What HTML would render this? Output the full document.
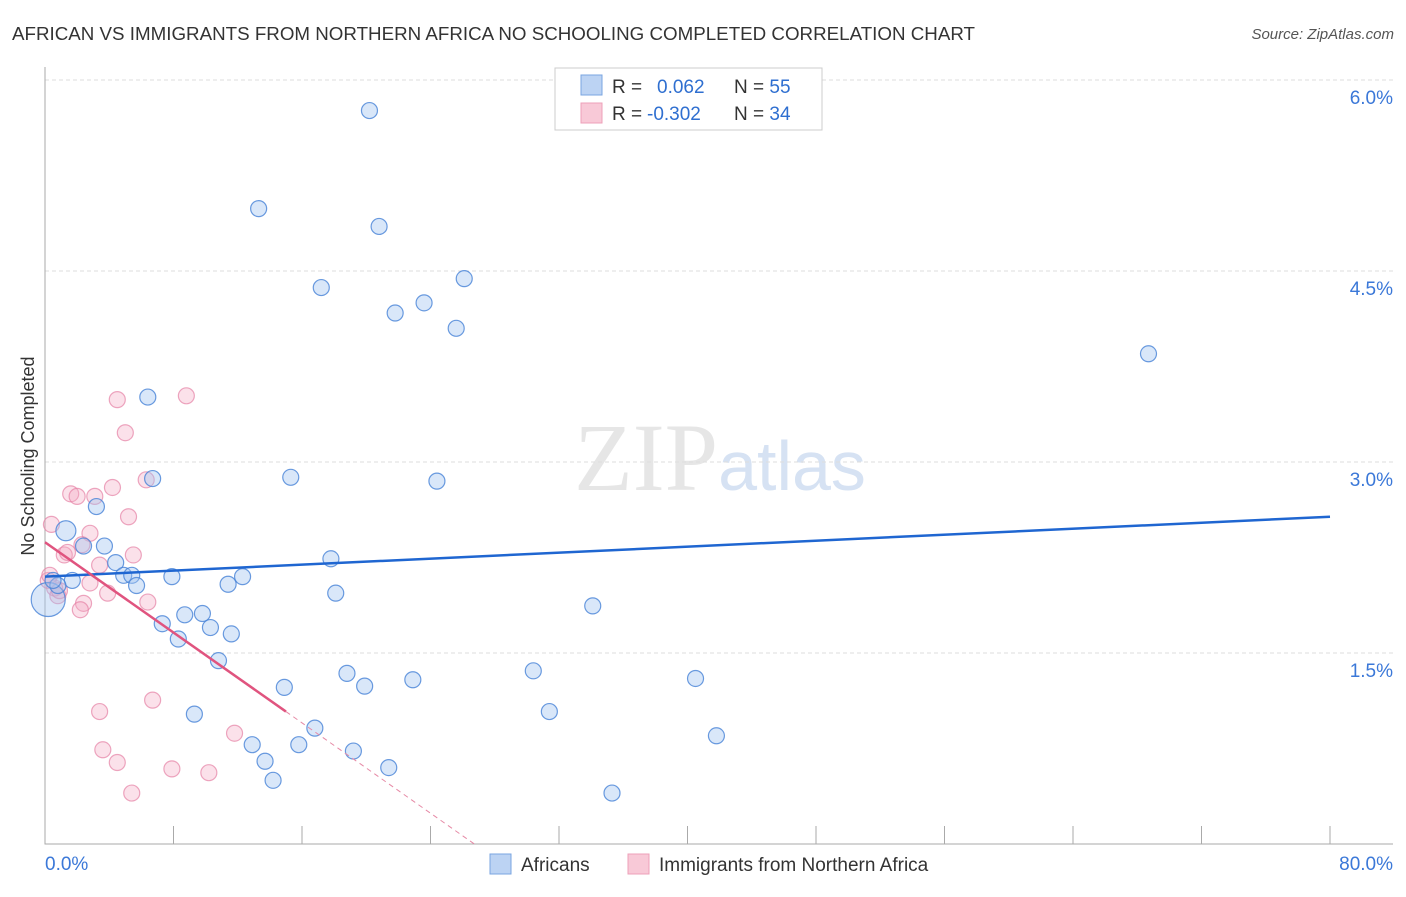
<!DOCTYPE html>
<html><head><meta charset="utf-8"><style>
body{margin:0;background:#fff;font-family:"Liberation Sans",sans-serif}
</style></head><body>
<svg width="1406" height="892" xmlns="http://www.w3.org/2000/svg" font-family="Liberation Sans, sans-serif">
<text x="12" y="40" font-size="18" fill="#333" textLength="963" lengthAdjust="spacingAndGlyphs">AFRICAN VS IMMIGRANTS FROM NORTHERN AFRICA NO SCHOOLING COMPLETED CORRELATION CHART</text>
<text x="1394" y="39" font-size="15" fill="#555" text-anchor="end" font-style="italic">Source: ZipAtlas.com</text>
<text x="720" y="490" font-size="96" fill="#e6e6e6" text-anchor="middle" font-family="Liberation Serif, serif">ZIP<tspan fill="#d6e2f3" font-family="Liberation Sans, sans-serif" font-size="70">atlas</tspan></text>
<g id="grid"></g>
<g id="axes"></g>
<g id="pts"></g>
<g id="lines"></g>
<text transform="translate(34,456) rotate(-90)" font-size="18" fill="#333" text-anchor="middle">No Schooling Completed</text>
<g>
<rect x="555" y="68" width="267" height="62" fill="#fff" stroke="#ccc"/>
<rect x="581" y="75" width="21" height="20" fill="#bcd3f3" stroke="#7aa4e0"/>
<rect x="581" y="103" width="21" height="20" fill="#f8c9d7" stroke="#eea0b8"/>
<text x="612" y="93" font-size="19" fill="#333">R = <tspan fill="#2f6fd0" x="657">0.062</tspan><tspan fill="#333" x="734">N = </tspan><tspan fill="#2f6fd0">55</tspan></text>
<text x="612" y="120" font-size="19" fill="#333">R = <tspan fill="#2f6fd0" x="647">-0.302</tspan><tspan fill="#333" x="734">N = </tspan><tspan fill="#2f6fd0">34</tspan></text>
</g>
<g>
<rect x="490" y="854" width="21" height="20" fill="#bcd3f3" stroke="#7aa4e0"/>
<text x="521" y="871" font-size="19" fill="#333">Africans</text>
<rect x="628" y="854" width="21" height="20" fill="#f8c9d7" stroke="#eea0b8"/>
<text x="659" y="871" font-size="19" fill="#333">Immigrants from Northern Africa</text>
</g>
</svg>
<script>
const yTicks=[1.5,3.0,4.5,6.0];
const xTickCount=[0,8,16,24,32,40,48,56,64,72,80];
const africansX=[20.2,13.3,20.8,17.2,26.1,21.8,23.6,25.6,68.7,6.4,6.7,15.3,24.4,3.2,1.3,3.7,2.4,4.4,4.9,5.4,5.7,7.9,12.3,11.4,17.8,18.1,34.1,8.7,9.8,7.3,8.3,10.3,11.6,10.8,18.8,19.9,22.9,30.4,40.5,14.9,9.3,31.4,16.8,12.9,15.8,13.7,19.2,21.4,14.2,41.8,35.3,0.2,1.7,0.8,0.5];
const africansY=[5.76,4.99,4.85,4.37,4.44,4.17,4.25,4.05,3.85,3.51,2.87,2.88,2.85,2.65,2.46,2.34,2.34,2.21,2.11,2.11,2.03,2.10,2.10,2.04,2.24,1.97,1.87,1.80,1.81,1.73,1.61,1.70,1.65,1.44,1.34,1.24,1.29,1.36,1.30,1.23,1.02,1.04,0.91,0.78,0.78,0.65,0.73,0.60,0.50,0.85,0.40,1.92,2.07,2.03,2.07];
const africansR=[8,8,8,8,8,8,8,8,8,8,8,8,8,8,10,8,8,8,8,8,8,8,8,8,8,8,8,8,8,8,8,8,8,8,8,8,8,8,8,8,8,8,8,8,8,8,8,8,8,8,8,17,8,8,8];
const nafX=[8.8,4.5,5.0,6.3,1.6,2.0,4.2,3.1,5.2,0.4,2.8,2.3,1.2,5.5,3.4,1.4,0.2,0.6,2.8,3.9,6.4,2.4,2.2,0.8,3.4,6.7,3.6,4.5,7.9,10.2,11.8,5.4,0.3,0.9];
const nafY=[3.52,3.49,3.23,2.86,2.75,2.73,2.80,2.73,2.57,2.51,2.44,2.35,2.27,2.27,2.19,2.29,2.07,2.01,2.05,1.97,1.90,1.89,1.84,1.95,1.04,1.13,0.74,0.64,0.59,0.56,0.87,0.40,2.11,1.99];
const blueTrend=[2.10,2.57];
const pinkTrend=[2.37,1.04];
const ns='http://www.w3.org/2000/svg';
const X=v=>45+v*1285/80, Y=v=>844-v*127.33;
function mk(p,t,a){const e=document.createElementNS(ns,t);for(const k in a)e.setAttribute(k,a[k]);document.getElementById(p).appendChild(e);return e;}
yTicks.forEach(t=>{
 const g=mk('grid','line',{x1:45,x2:1393,y1:Y(t),y2:Y(t),stroke:'#ddd','stroke-dasharray':'4,3'});
 
 
 const l=mk('grid','text',{x:1393,y:Y(t)+24,'font-size':19,fill:'#3b78d8','text-anchor':'end'});l.textContent=t.toFixed(1)+'%';
 
 
});
const ax=mk('axes','path',{d:'M45,67V844H1393',stroke:'#aaa',fill:'none'});


xTickCount.forEach(t=>{const k=mk('axes','line',{x1:X(t),x2:X(t),y1:826,y2:844,stroke:'#aaa'});
 
 });
[[0,'start',45],[80,'end',1393]].forEach(([v,a,x])=>{const l=mk('axes','text',{x:x,y:870,'font-size':19,fill:'#3b78d8','text-anchor':a});l.textContent=v.toFixed(1)+'%';
 
 });
nafX.forEach((x,i)=>{const c=mk('pts','circle',{cx:X(x),cy:Y(nafY[i]),r:8,fill:'rgba(244,170,195,0.35)',stroke:'rgba(230,130,165,0.7)','stroke-width':1.2});
 
 });
africansX.forEach((x,i)=>{const c=mk('pts','circle',{cx:X(x),cy:Y(africansY[i]),r:africansR[i],fill:'rgba(160,195,240,0.4)',stroke:'rgba(70,130,215,0.8)','stroke-width':1.2});
 
 });
const bl=mk('lines','line',{x1:X(0),y1:Y(blueTrend[0]),x2:X(80),y2:Y(blueTrend[1]),stroke:'#1f66d1','stroke-width':2.5});


const sl=(pinkTrend[1]-pinkTrend[0])/15;
const pl=mk('lines','line',{x1:X(0),y1:Y(pinkTrend[0]),x2:X(15),y2:Y(pinkTrend[1]),stroke:'#e0547f','stroke-width':2.5});


const xe=-pinkTrend[0]/sl;
const pd=mk('lines','line',{x1:X(15),y1:Y(pinkTrend[1]),x2:X(xe),y2:Y(0),stroke:'#e68aa6','stroke-width':1,'stroke-dasharray':'5,4'});


</script>
</body></html>
